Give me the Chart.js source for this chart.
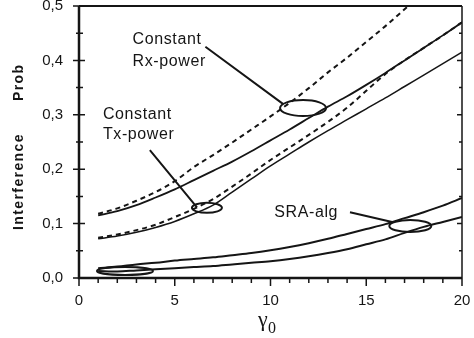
<!DOCTYPE html>
<html>

<head>
    <title>Interference Prob vs gamma0</title>
    <script src="https://cdn.jsdelivr.net/npm/chart.js"></script>
    <style>
        body {
            margin: 0;
            background: #fff;
        }

        .chart-container {
            width: 474px;
            height: 338px;
        }
    </style>
</head>

<body>
    <div class="chart-container">
        <canvas id="probChart" width="474" height="338"></canvas>
    </div>

    <script>
        // gamma_0 values along the x axis
        const gamma = [1, 2, 3, 4, 5, 6, 7, 8, 9, 10, 11, 12, 13, 14, 15, 16, 17, 18, 19, 20];

        // Constant Rx-power (dashed and solid)
        const rxDashed = [0.118, 0.128, 0.142, 0.158, 0.178, 0.204, 0.226, 0.249, 0.273, 0.297, 0.322, 0.349, 0.378, 0.405, 0.434, 0.463, 0.494, 0.525, 0.556, 0.587];
        const rxSolid = [0.115, 0.123, 0.134, 0.148, 0.163, 0.180, 0.197, 0.214, 0.233, 0.253, 0.273, 0.294, 0.315, 0.334, 0.355, 0.377, 0.400, 0.423, 0.446, 0.470];

        // Constant Tx-power (dashed and solid)
        const txDashed = [0.074, 0.080, 0.088, 0.098, 0.112, 0.127, 0.145, 0.168, 0.192, 0.217, 0.240, 0.263, 0.287, 0.313, 0.344, 0.375, 0.400, 0.423, 0.446, 0.470];
        const txSolid = [0.072, 0.077, 0.084, 0.093, 0.104, 0.118, 0.134, 0.158, 0.182, 0.206, 0.228, 0.250, 0.271, 0.291, 0.311, 0.331, 0.352, 0.373, 0.394, 0.415];

        // SRA algorithm (two curves)
        const sraUpper = [0.018, 0.021, 0.025, 0.028, 0.032, 0.035, 0.038, 0.042, 0.046, 0.051, 0.057, 0.064, 0.072, 0.081, 0.090, 0.099, 0.110, 0.121, 0.133, 0.147];
        const sraLower = [0.013, 0.012, 0.014, 0.016, 0.018, 0.020, 0.022, 0.025, 0.028, 0.031, 0.035, 0.040, 0.046, 0.053, 0.062, 0.071, 0.083, 0.094, 0.103, 0.112];

        const xTicks = [0, 5, 10, 15, 20];
        const yTicks = [0, 0.1, 0.2, 0.3, 0.4, 0.5];

        const ink = '#151515';

        function toPoints(ys) {
            return gamma.map((g, i) => ({ x: g, y: ys[i] }));
        }

        function series(ys, dashed, width) {
            return {
                data: toPoints(ys),
                borderColor: ink,
                borderWidth: width,
                borderDash: dashed ? [5, 4] : [],
                pointRadius: 0,
                cubicInterpolationMode: 'monotone',
                fill: false
            };
        }

        // frame, tick marks, axis title and the callouts
        const decorations = {
            id: 'decorations',
            afterDraw(chart) {
                const ctx = chart.ctx;
                const xs = chart.scales.x;
                const ys = chart.scales.y;
                const a = chart.chartArea;
                const px = v => xs.getPixelForValue(v);
                const py = v => ys.getPixelForValue(v);

                ctx.save();
                ctx.strokeStyle = ink;
                ctx.fillStyle = ink;

                // frame
                ctx.lineWidth = 2.5;
                ctx.beginPath();
                ctx.moveTo(a.left, a.top);
                ctx.lineTo(a.left, a.bottom);
                ctx.lineTo(a.right, a.bottom);
                ctx.stroke();
                ctx.lineWidth = 2;
                ctx.beginPath();
                ctx.moveTo(a.left, a.top);
                ctx.lineTo(a.right, a.top);
                ctx.stroke();
                ctx.lineWidth = 1.5;
                ctx.beginPath();
                ctx.moveTo(a.right, a.top);
                ctx.lineTo(a.right, a.bottom);
                ctx.stroke();

                // y ticks (major every 0.1, minor every 0.05)
                ctx.lineWidth = 1.5;
                for (let k = 0; k <= 10; k++) {
                    const y = py(k * 0.05);
                    const major = k % 2 === 0;
                    ctx.beginPath();
                    ctx.moveTo(a.left - (major ? 6 : 3), y);
                    ctx.lineTo(a.left + (major ? 6 : 4), y);
                    ctx.moveTo(a.right, y);
                    ctx.lineTo(a.right - (major ? 5 : 3), y);
                    ctx.stroke();
                }
                // x ticks (major every 5, minor every 1)
                for (let k = 0; k <= 20; k++) {
                    const x = px(k);
                    const major = k % 5 === 0;
                    ctx.beginPath();
                    ctx.moveTo(x, a.bottom);
                    ctx.lineTo(x, a.bottom + (major ? 8 : 5));
                    ctx.stroke();
                }

                // y axis title
                ctx.save();
                ctx.translate(19, 0);
                ctx.rotate(-Math.PI / 2);
                ctx.font = 'bold 14px "Liberation Sans", Arial, sans-serif';
                ctx.letterSpacing = '1.4px';
                ctx.textBaseline = 'middle';
                ctx.textAlign = 'left';
                ctx.fillText('Interference', -230, 0);
                ctx.fillText('Prob', -101, 0);
                ctx.restore();

                // x axis title: gamma with subscript 0
                ctx.font = '22px "Liberation Serif", "DejaVu Serif", serif';
                ctx.textBaseline = 'alphabetic';
                ctx.textAlign = 'left';
                ctx.fillText('γ', 258, 326);
                ctx.font = '16px "Liberation Serif", "DejaVu Serif", serif';
                ctx.fillText('0', 268, 333);

                // callout text
                ctx.font = '16px "Liberation Sans", Arial, sans-serif';
                ctx.letterSpacing = '0.6px';
                ctx.textBaseline = 'middle';
                ctx.fillText('Constant', px(2.8), py(0.4375));
                ctx.fillText('Rx-power', px(2.8), py(0.397));
                ctx.fillText('Constant', px(1.25), py(0.300));
                ctx.fillText('Tx-power', px(1.25), py(0.263));
                ctx.fillText('SRA-alg', px(10.2), py(0.120));

                // callout pointers
                ctx.lineWidth = 2;
                ctx.beginPath();
                ctx.moveTo(px(6.6), py(0.425));
                ctx.lineTo(px(10.65), py(0.32));
                ctx.moveTo(px(3.7), py(0.235));
                ctx.lineTo(px(6.16), py(0.130));
                ctx.moveTo(px(14.15), py(0.121));
                ctx.lineTo(px(16.35), py(0.103));
                ctx.stroke();

                // callout ellipses
                const ellipse = (cx, cy, rx, ry) => {
                    ctx.beginPath();
                    ctx.ellipse(px(cx), py(cy), rx, ry, 0, 0, Math.PI * 2);
                    ctx.stroke();
                };
                ctx.lineWidth = 2;
                ellipse(11.7, 0.3125, 23, 8);
                ellipse(6.68, 0.129, 15, 5);
                ellipse(17.3, 0.0956, 21, 6);
                ellipse(2.4, 0.013, 28, 4);

                ctx.restore();
            }
        };

        const canvas = document.getElementById('probChart').getContext('2d');

        const probChart = new Chart(canvas, {
            type: 'line',
            data: {
                datasets: [
                    series(rxDashed, true, 2),
                    series(rxSolid, false, 1.8),
                    series(txDashed, true, 2),
                    series(txSolid, false, 1.5),
                    series(sraUpper, false, 2),
                    series(sraLower, false, 2)
                ]
            },
            options: {
                responsive: false,
                animation: false,
                layout: {
                    padding: { top: 6, right: 12, left: 0, bottom: 0 }
                },
                plugins: {
                    legend: { display: false },
                    tooltip: { enabled: false }
                },
                scales: {
                    x: {
                        type: 'linear',
                        min: 0,
                        max: 20,
                        afterFit: scale => {
                            scale.height = 60;
                            scale.paddingLeft = 0;
                            scale.paddingRight = 0;
                        },
                        afterBuildTicks: scale => {
                            scale.ticks = xTicks.map(v => ({ value: v }));
                        },
                        grid: { display: false },
                        border: { display: false },
                        ticks: {
                            color: ink,
                            padding: 6,
                            font: { family: '"Liberation Sans", Arial, sans-serif', size: 15 },
                            maxRotation: 0
                        }
                    },
                    y: {
                        min: 0,
                        max: 0.5,
                        afterFit: scale => {
                            scale.width = 79;
                            scale.paddingTop = 0;
                            scale.paddingBottom = 0;
                        },
                        afterBuildTicks: scale => {
                            scale.ticks = yTicks.map(v => ({ value: v }));
                        },
                        grid: { display: false },
                        border: { display: false },
                        ticks: {
                            color: ink,
                            padding: 8,
                            font: { family: '"Liberation Sans", Arial, sans-serif', size: 15 },
                            callback: v => v.toFixed(1).replace('.', ',')
                        }
                    }
                }
            },
            plugins: [decorations]
        });
    </script>
</body>

</html>
